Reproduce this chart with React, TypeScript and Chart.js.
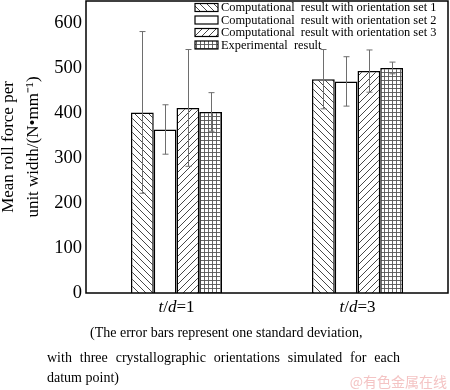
import React, { useEffect, useRef } from 'react';
import { Chart, registerables } from 'chart.js';

Chart.register(...registerables);

const categories = ['t/d=1', 't/d=3'];
const seriesLabels = [
  'Computational  result with orientation set 1',
  'Computational  result with orientation set 2',
  'Computational  result with orientation set 3',
  'Experimental  result',
];
const set1Values = [402, 476];
const set2Values = [364, 471];
const set3Values = [412, 494];
const experimentalValues = [403, 501];
const set1Errors = [180, 66];
const set2Errors = [55, 55];
const set3Errors = [130, 47];
const experimentalErrors = [43, 13];
const yTicks = [0, 100, 200, 300, 400, 500, 600];
const yMax = 650;
const yTitle = ['Mean roll force per', 'unit width/(N\u2022mm\u207B\u00B9)'];
const caption1 = '(The error bars represent one standard deviation,';
const caption2 = 'with three crystallographic orientations simulated for each';
const caption3 = 'datum point)';
const watermark = '@有色金属在线';

const SERIF = '"Liberation Serif", "Times New Roman", serif';

function makePattern(kind: string): CanvasPattern | string {
  if (kind === 'none') return '#ffffff';
  const c = document.createElement('canvas');
  const s = kind === 'grid' ? 4 : 7;
  c.width = s;
  c.height = s;
  const g = c.getContext('2d')!;
  g.fillStyle = '#ffffff';
  g.fillRect(0, 0, s, s);
  g.strokeStyle = '#333333';
  g.lineWidth = 0.9;
  g.beginPath();
  if (kind === 'back') {
    g.moveTo(-1, -1);
    g.lineTo(s + 1, s + 1);
    g.moveTo(-1, s - 1);
    g.lineTo(1, s + 1);
    g.moveTo(s - 1, -1);
    g.lineTo(s + 1, 1);
  } else if (kind === 'fwd') {
    g.moveTo(-1, s + 1);
    g.lineTo(s + 1, -1);
    g.moveTo(-1, 1);
    g.lineTo(1, -1);
    g.moveTo(s - 1, s + 1);
    g.lineTo(s + 1, s - 1);
  } else if (kind === 'grid') {
    g.strokeStyle = '#555555';
    g.moveTo(0, 0.5);
    g.lineTo(s, 0.5);
    g.moveTo(0.5, 0);
    g.lineTo(0.5, s);
  }
  g.stroke();
  const p = g.createPattern(c, 'repeat');
  return p || '#ffffff';
}

const errorBarPlugin = {
  id: 'errorBars',
  afterDatasetsDraw(chart: any) {
    const ctx = chart.ctx;
    const y = chart.scales.y;
    ctx.save();
    ctx.strokeStyle = '#6e6e6e';
    ctx.lineWidth = 1;
    chart.data.datasets.forEach((ds: any, di: number) => {
      const meta = chart.getDatasetMeta(di);
      meta.data.forEach((bar: any, i: number) => {
        const v = ds.data[i];
        const e = ds.errors[i];
        const x = Math.round(bar.x) + 0.5;
        const yt = y.getPixelForValue(v + e);
        const yb = y.getPixelForValue(v - e);
        ctx.beginPath();
        ctx.moveTo(x, yt);
        ctx.lineTo(x, yb);
        ctx.moveTo(x - 3, yt);
        ctx.lineTo(x + 3, yt);
        ctx.moveTo(x - 3, yb);
        ctx.lineTo(x + 3, yb);
        ctx.stroke();
      });
    });
    ctx.restore();
  },
};

const framePlugin = {
  id: 'frame',
  afterDraw(chart: any) {
    const { ctx, chartArea: a } = chart;
    ctx.save();
    ctx.strokeStyle = '#000';
    ctx.lineWidth = 1.5;
    ctx.strokeRect(a.left, a.top, a.right - a.left, a.bottom - a.top);
    ctx.restore();
  },
};

const xLabelPlugin = {
  id: 'xLabels',
  afterDraw(chart: any) {
    const { ctx } = chart;
    const xs = chart.scales.x;
    ctx.save();
    ctx.fillStyle = '#000';
    ctx.textBaseline = 'middle';
    categories.forEach((label, i) => {
      const parts = label.split('').map((ch) => ({ ch, it: /[a-z]/i.test(ch) }));
      const fontN = `17px ${SERIF}`;
      const fontI = `italic 17px ${SERIF}`;
      let w = 0;
      parts.forEach((p) => {
        ctx.font = p.it ? fontI : fontN;
        w += ctx.measureText(p.ch).width;
      });
      let x = xs.getPixelForValue(i) - w / 2;
      parts.forEach((p) => {
        ctx.font = p.it ? fontI : fontN;
        ctx.fillText(p.ch, x, xs.top + 15);
        x += ctx.measureText(p.ch).width;
      });
    });
    ctx.restore();
  },
};

const legendPlugin = {
  id: 'customLegend',
  afterDraw(chart: any) {
    const { ctx, chartArea: a } = chart;
    ctx.save();
    ctx.font = `12.4px ${SERIF}`;
    ctx.textBaseline = 'middle';
    chart.data.datasets.forEach((ds: any, i: number) => {
      const bx = a.right - 253;
      const cy = a.top + 6.5 + i * 12.5;
      ctx.fillStyle = ds.backgroundColor;
      ctx.fillRect(bx, cy - 4, 23, 8);
      ctx.strokeStyle = '#000';
      ctx.lineWidth = 1.2;
      ctx.strokeRect(bx, cy - 4, 23, 8);
      ctx.fillStyle = '#000';
      ctx.fillText(ds.label, bx + 26, cy + 0.5);
    });
    ctx.restore();
  },
};

export default function App() {
  const ref = useRef<HTMLCanvasElement>(null);
  useEffect(() => {
    const canvas = ref.current!;
    const series = [
      { label: seriesLabels[0], data: set1Values, errors: set1Errors, kind: 'back' },
      { label: seriesLabels[1], data: set2Values, errors: set2Errors, kind: 'none' },
      { label: seriesLabels[2], data: set3Values, errors: set3Errors, kind: 'fwd' },
      { label: seriesLabels[3], data: experimentalValues, errors: experimentalErrors, kind: 'grid' },
    ];
    const chart = new Chart(canvas, {
      type: 'bar',
      data: {
        labels: categories,
        datasets: series.map((s) => ({
          label: s.label,
          data: s.data,
          errors: s.errors,
          backgroundColor: makePattern(s.kind),
          borderColor: '#000',
          borderWidth: 1.5,
          barPercentage: 1,
          categoryPercentage: 0.503,
        })) as any,
      },
      options: {
        responsive: false,
        animation: false,
        devicePixelRatio: 1,
        layout: { padding: { top: 1, right: 2, left: 0, bottom: 0 } },
        plugins: { legend: { display: false }, tooltip: { enabled: false } },
        scales: {
          x: {
            grid: { display: false, drawTicks: false },
            border: { display: false },
            ticks: { display: false },
            afterFit(scale: any) {
              scale.height = 97;
              scale.paddingLeft = 0;
              scale.paddingRight = 0;
            },
          },
          y: {
            min: 0,
            max: yMax,
            grid: { display: false, drawTicks: false },
            border: { display: false },
            afterBuildTicks(scale: any) {
              scale.ticks = yTicks.map((v) => ({ value: v }));
            },
            afterFit(scale: any) {
              scale.width = 86;
              scale.paddingTop = 0;
              scale.paddingBottom = 0;
            },
            ticks: {
              padding: 4,
              color: '#000',
              font: { family: SERIF, size: 18.5 },
            },
            title: {
              display: true,
              text: yTitle,
              color: '#000',
              font: { family: SERIF, size: 17, lineHeight: 1.47 },
              padding: { top: -3.5, bottom: 0 },
            },
          },
        },
      },
      plugins: [errorBarPlugin, framePlugin, xLabelPlugin, legendPlugin],
    });
    return () => chart.destroy();
  }, []);

  const textStyle: React.CSSProperties = {
    position: 'absolute',
    fontFamily: SERIF,
    fontSize: 14,
    lineHeight: '16px',
    color: '#000',
    whiteSpace: 'nowrap',
  };

  return (
    <div style={{ position: 'absolute', left: 0, top: 0, width: 450, height: 390, background: '#fff' }}>
      <canvas ref={ref} width={450} height={390} style={{ position: 'absolute', left: 0, top: 0 }} />
      <div style={{ ...textStyle, left: 90, top: 325 }}>{caption1}</div>
      <div
        style={{
          ...textStyle,
          left: 47,
          top: 350,
          width: 353,
          whiteSpace: 'normal',
          textAlign: 'justify',
          textAlignLast: 'justify',
        }}
      >
        {caption2}
      </div>
      <div style={{ ...textStyle, left: 47, top: 370 }}>{caption3}</div>
      <div
        style={{
          position: 'absolute',
          right: 3,
          top: 372,
          fontFamily: '"Noto Sans CJK SC", sans-serif',
          fontSize: 14,
          lineHeight: '18px',
          color: '#f4c4c4',
          whiteSpace: 'nowrap',
        }}
      >
        {watermark}
      </div>
    </div>
  );
}
